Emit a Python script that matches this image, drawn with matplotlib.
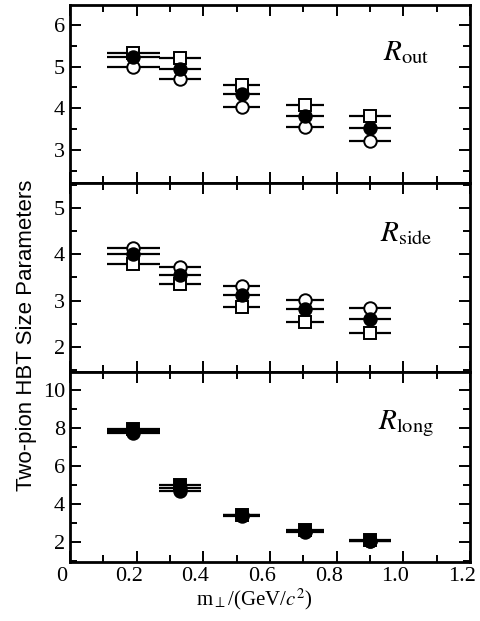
import numpy as np
import matplotlib
matplotlib.use("Agg")
from matplotlib import pyplot as plt
from matplotlib import transforms
from matplotlib.ticker import MultipleLocator

plt.rcParams['font.family'] = ['Liberation Serif', 'DejaVu Serif']
plt.rcParams['mathtext.fontset'] = 'stix'

# m_perp bins (GeV/c^2) and their horizontal half-widths
mt = [0.19, 0.33, 0.515, 0.705, 0.90]
mt_err = [0.08, 0.063, 0.055, 0.057, 0.063]

# R_out
out_sq = [5.32, 5.21, 4.55, 4.07, 3.81]
out_fill = [5.24, 4.93, 4.33, 3.81, 3.52]
out_open = [5.00, 4.69, 4.02, 3.55, 3.21]

# R_side
side_open = [4.15, 3.72, 3.31, 3.02, 2.84]
side_fill = [4.00, 3.55, 3.11, 2.82, 2.61]
side_sq = [3.80, 3.35, 2.86, 2.54, 2.29]

# R_long (all three nearly on top of each other)
long_sq = [7.95, 5.00, 3.45, 2.62, 2.10]
long_fill = [7.85, 4.85, 3.40, 2.58, 2.07]
long_open = [7.75, 4.70, 3.35, 2.55, 2.05]

fig = plt.figure(figsize=(4.81, 6.21), dpi=100)
gs = fig.add_gridspec(3, 1, left=0.1455, right=0.977, bottom=0.095, top=0.992,
                      hspace=0, height_ratios=[178, 189, 190])
axes = [fig.add_subplot(gs[i]) for i in range(3)]


def draw(ax, x, y, marker, face, z):
    ax.errorbar(x, y, xerr=mt_err, fmt=marker, ms=9, mfc=face, mec='black',
                mew=1.4, ecolor='black', elinewidth=1.6, capsize=0, zorder=z)


draw(axes[0], mt, out_sq, 's', 'white', 3)
draw(axes[0], mt, out_open, 'o', 'white', 3)
draw(axes[0], mt, out_fill, 'o', 'black', 4)

draw(axes[1], mt, side_sq, 's', 'white', 3)
draw(axes[1], mt, side_open, 'o', 'white', 3)
draw(axes[1], mt, side_fill, 'o', 'black', 4)

draw(axes[2], mt, long_sq, 's', 'black', 3)
draw(axes[2], mt, long_open, 'o', 'black', 3)
draw(axes[2], mt, long_fill, 'o', 'black', 4)

axes[0].set_ylim(2.2, 6.48)
axes[1].set_ylim(1.45, 5.55)
axes[2].set_ylim(0.95, 10.95)

axes[0].yaxis.set_major_locator(MultipleLocator(1))
axes[0].yaxis.set_minor_locator(MultipleLocator(0.5))
axes[1].yaxis.set_major_locator(MultipleLocator(1))
axes[1].yaxis.set_minor_locator(MultipleLocator(0.5))
axes[2].yaxis.set_major_locator(MultipleLocator(2))
axes[2].yaxis.set_minor_locator(MultipleLocator(1))

labels = [r'$R_{\mathrm{out}}$', r'$R_{\mathrm{side}}$', r'$R_{\mathrm{long}}$']
for ax, lab in zip(axes, labels):
    ax.set_xlim(0, 1.2)
    ax.xaxis.set_major_locator(MultipleLocator(0.2))
    ax.xaxis.set_minor_locator(MultipleLocator(0.1))
    ax.tick_params(which='both', direction='in', top=True, right=True,
                   width=1.4, labelsize=16)
    ax.tick_params(which='major', length=8)
    ax.tick_params(which='minor', length=5)
    for sp in ax.spines.values():
        sp.set_linewidth(2)
    ax.text(0.84, 0.73, lab, transform=ax.transAxes, ha='center', va='center',
            fontsize=21)

axes[0].tick_params(labelbottom=False)
axes[1].tick_params(labelbottom=False)
axes[2].set_xticks([0, 0.2, 0.4, 0.6, 0.8, 1.0, 1.2])
axes[2].set_xticklabels(['0', '0.2', '0.4', '0.6', '0.8', '1.0', '1.2'])
# the scanned labels sit a little to the left of their ticks
shift = transforms.ScaledTranslation(-8 / 100, 0, fig.dpi_scale_trans)
for lbl in axes[2].get_xticklabels():
    lbl.set_transform(lbl.get_transform() + shift)
axes[2].set_xlabel(r'm$_\perp$/(GeV/$c^2$)', fontsize=15, labelpad=0)
axes[2].xaxis.set_label_coords(0.46, -0.13)

fig.text(0.056, 0.46, 'Two-pion HBT Size Parameters', rotation=90,
         ha='center', va='center', fontsize=16, family='Liberation Sans')

fig.savefig('out.png', dpi=100)
